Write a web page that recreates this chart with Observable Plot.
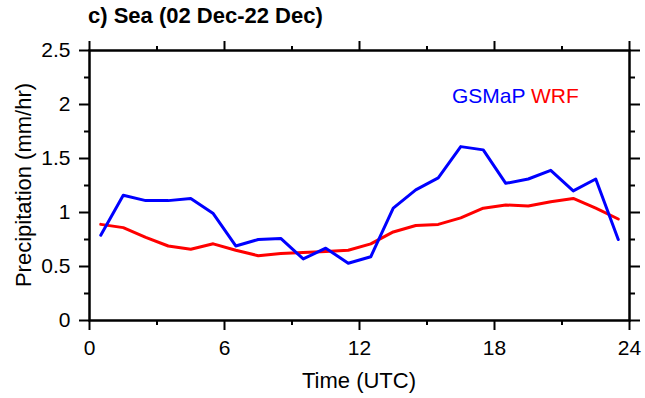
<!DOCTYPE html>
<html>
<head>
<meta charset="utf-8">
<script src="https://cdn.jsdelivr.net/npm/d3@7"></script>
<script src="https://cdn.jsdelivr.net/npm/@observablehq/plot@0.6"></script>
<style>
  html, body { margin: 0; padding: 0; background: #fff; }
  #wrap { position: relative; width: 645px; height: 398px; overflow: hidden;
          font-family: "Liberation Sans", Arial, Helvetica, sans-serif; color: #000; }
  #wrap svg { position: absolute; left: 0; top: 0; }
  .lbl { position: absolute; white-space: nowrap; line-height: 1; }
  #title { left: 88px; top: 5px; font-size: 22px; font-weight: bold; }
  #ylab { left: 24px; top: 185px; font-size: 22px; transform: translate(-50%, -50%) rotate(-90deg); }
  #xlab { left: 359px; top: 370px; font-size: 22px; transform: translateX(-50%); }
  #legend { left: 452px; top: 85px; font-size: 21px; }
</style>
</head>
<body>
<div id="wrap">
  <div id="title" class="lbl">c) Sea (02 Dec-22 Dec)</div>
  <div id="ylab" class="lbl">Precipitation (mm/hr)</div>
  <div id="xlab" class="lbl">Time (UTC)</div>
  <div id="legend" class="lbl"><span style="color:#0000ff">GSMaP</span> <span style="color:#ff0000">WRF</span></div>
</div>
<script>
// Hourly mean precipitation over sea, 02-22 Dec (values at half-hour marks)
const hours = [0.5, 1.5, 2.5, 3.5, 4.5, 5.5, 6.5, 7.5, 8.5, 9.5, 10.5, 11.5,
               12.5, 13.5, 14.5, 15.5, 16.5, 17.5, 18.5, 19.5, 20.5, 21.5, 22.5, 23.5];
const gsmap = [0.79, 1.16, 1.11, 1.11, 1.13, 0.99, 0.69, 0.75, 0.76, 0.57, 0.67, 0.53,
               0.59, 1.04, 1.21, 1.32, 1.61, 1.58, 1.27, 1.31, 1.39, 1.20, 1.31, 0.75];
const wrf   = [0.89, 0.86, 0.77, 0.69, 0.66, 0.71, 0.65, 0.60, 0.62, 0.63, 0.64, 0.65,
               0.71, 0.82, 0.88, 0.89, 0.95, 1.04, 1.07, 1.06, 1.10, 1.13, 1.04, 0.94];

const xMajor = [0, 6, 12, 18, 24];
const xMinor = [3, 9, 15, 21];
const yMajor = [0, 0.5, 1, 1.5, 2, 2.5];
const yMinor = [0.25, 0.75, 1.25, 1.75, 2.25];

const axisStyle = {strokeWidth: 2, label: null};

const chart = Plot.plot({
  width: 645,
  height: 398,
  marginLeft: 89,
  marginRight: 16,
  marginTop: 50,
  marginBottom: 78,
  style: {fontFamily: "Liberation Sans, Arial, Helvetica, sans-serif", fontSize: "21px", color: "#000", background: "#fff"},
  x: {domain: [0, 24]},
  y: {domain: [0, 2.5]},
  marks: [
    Plot.axisX({...axisStyle, anchor: "bottom", ticks: xMajor, tickSize: 10, tickPadding: 10, tickFormat: d => String(d)}),
    Plot.axisX({...axisStyle, anchor: "bottom", ticks: xMinor, tickSize: 5, text: null}),
    Plot.axisX({...axisStyle, anchor: "top", ticks: xMajor, tickSize: 10, text: null}),
    Plot.axisX({...axisStyle, anchor: "top", ticks: xMinor, tickSize: 5, text: null}),
    Plot.axisY({...axisStyle, anchor: "left", ticks: yMajor, tickSize: 10, tickPadding: 9, tickFormat: d => String(d)}),
    Plot.axisY({...axisStyle, anchor: "left", ticks: yMinor, tickSize: 5, text: null}),
    Plot.axisY({...axisStyle, anchor: "right", ticks: yMajor, tickSize: 10, text: null}),
    Plot.axisY({...axisStyle, anchor: "right", ticks: yMinor, tickSize: 5, text: null}),
    Plot.lineY(wrf, {x: hours, y: wrf, stroke: "#ff0000", strokeWidth: 3}),
    Plot.lineY(gsmap, {x: hours, y: gsmap, stroke: "#0000ff", strokeWidth: 3}),
    Plot.frame({stroke: "#000", strokeWidth: 2.5})
  ]
});

document.getElementById("wrap").prepend(chart);
</script>
</body>
</html>
